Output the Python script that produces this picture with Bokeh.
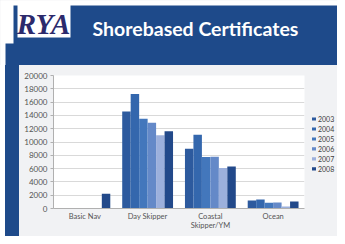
from bokeh.plotting import figure
from bokeh.layouts import column, row
from bokeh.models import (FactorRange, Range1d, ColumnDataSource, FixedTicker, Spacer)
from bokeh.core.properties import value
from bokeh.transform import dodge
from bokeh.embed import file_html
from bokeh.resources import INLINE

# ---- data ----
categories = ["Basic Nav", "Day Skipper", "Coastal\nSkipper/YM", "Ocean"]
years = ["2003", "2004", "2005", "2006", "2007", "2008"]
v2003 = [0, 14600, 9000, 1200]
v2004 = [0, 17200, 11100, 1350]
v2005 = [0, 13500, 7750, 850]
v2006 = [0, 12900, 7800, 900]
v2007 = [0, 11000, 6100, 300]
v2008 = [2200, 11600, 6300, 1050]
y_ticks = [0, 2000, 4000, 6000, 8000, 10000, 12000, 14000, 16000, 18000, 20000]
title_text = "Shorebased Certificates"
logo_text = "RYA"

series = [v2003, v2004, v2005, v2006, v2007, v2008]
colors = ["#2d5a9e", "#3467ad", "#4377bc", "#6489c8", "#9cb0dc", "#22498a"]

BLUE = "#1e4a8a"
PANEL = "#f1f2f4"


def bare(fig, bg):
    fig.background_fill_color = bg
    fig.border_fill_color = bg
    fig.outline_line_color = None
    fig.grid.visible = False


# ---- header ----
HW, HH = 337, 65
hdr = figure(width=HW, height=HH, output_backend="svg", toolbar_location=None,
             x_range=Range1d(0, HW), y_range=Range1d(HH, 0),
             x_axis_location=None, y_axis_location=None,
             min_border=0, min_border_left=0, min_border_right=0,
             min_border_top=0, min_border_bottom=0)
bare(hdr, "white")
hdr.quad(left=[5], right=[HW], top=[5], bottom=[HH], fill_color=BLUE, line_color=None)
hdr.quad(left=[0, 17], right=[13, 70], top=[0, 0], bottom=[43, 37],
         fill_color="white", line_color=None)
hdr.text(x=[43], y=[23], text=[logo_text], text_font=value("Liberation Sans Narrow"),
         text_font_style="bold italic", text_font_size="29px",
         text_color="#2c2a6c", text_align="center", text_baseline="middle")
hdr.text(x=[92], y=[28], text=[title_text], text_font=value("Lato"),
         text_font_style="bold", text_font_size="19.5px", text_color="white",
         text_align="left", text_baseline="middle")

# ---- chart ----
CW, CH = 287, 171
src = ColumnDataSource(dict(cat=categories, **{y: s for y, s in zip(years, series)}))
bw = 0.135

p = figure(width=CW, height=CH, output_backend="svg", toolbar_location=None,
           x_range=FactorRange(*categories, range_padding=0),
           y_range=Range1d(0, 20000),
           min_border_left=34, min_border_right=2,
           min_border_top=10, min_border_bottom=28)
p.border_fill_color = PANEL
p.background_fill_color = "white"
p.outline_line_color = None

for i, (yr, col) in enumerate(zip(years, colors)):
    p.vbar(x=dodge("cat", (i - 2.5) * bw, range=p.x_range), top=yr, width=bw,
           source=src, fill_color=col, line_color=None)

p.ygrid.ticker = FixedTicker(ticks=y_ticks)
p.yaxis.ticker = FixedTicker(ticks=y_ticks)
p.ygrid.grid_line_color = "#d9d9d9"
p.xgrid.grid_line_color = None
for ax in (p.xaxis, p.yaxis):
    ax.axis_line_color = "#b0b0b0"
    ax.major_tick_line_color = "#b0b0b0"
    ax.minor_tick_line_color = None
    ax.major_label_text_font = "Lato"
    ax.major_label_text_font_size = "8px"
    ax.major_label_text_color = "#555555"
p.yaxis.major_tick_out = 3
p.yaxis.major_tick_in = 0
p.yaxis.major_label_standoff = 3
p.xaxis.major_tick_line_color = None
p.xaxis.major_tick_out = 0
p.xaxis.major_tick_in = 0
p.xaxis.major_label_standoff = 3
p.xaxis.major_label_text_font_size = "7.5px"
p.xaxis.major_label_text_line_height = 1.0

# ---- legend panel (drawn from the years list) ----
LW = 31
lf = figure(width=LW, height=CH, output_backend="svg", toolbar_location=None,
            x_range=Range1d(0, LW), y_range=Range1d(CH, 0),
            x_axis_location=None, y_axis_location=None,
            min_border=0, min_border_left=0, min_border_right=0,
            min_border_top=0, min_border_bottom=0)
bare(lf, PANEL)
step = 12.8
leg_y = [56 + step * i for i in range(len(years))]
lf.rect(x=[7.5] * len(years), y=leg_y, width=4, height=4, fill_color=colors,
        line_color=None)
lf.text(x=[11.5] * len(years), y=leg_y, text=years, text_font=value("Lato"),
        text_font_size="7px", text_color="#404040", text_align="left",
        text_baseline="middle")

white_sp = Spacer(width=5, height=CH, styles={"background-color": "white"})
blue_sp = Spacer(width=14, height=CH, styles={"background-color": BLUE})
layout = column(hdr, row(white_sp, blue_sp, p, lf),
                styles={"background-color": PANEL})

open("out.html", "w").write(file_html(layout, INLINE))
